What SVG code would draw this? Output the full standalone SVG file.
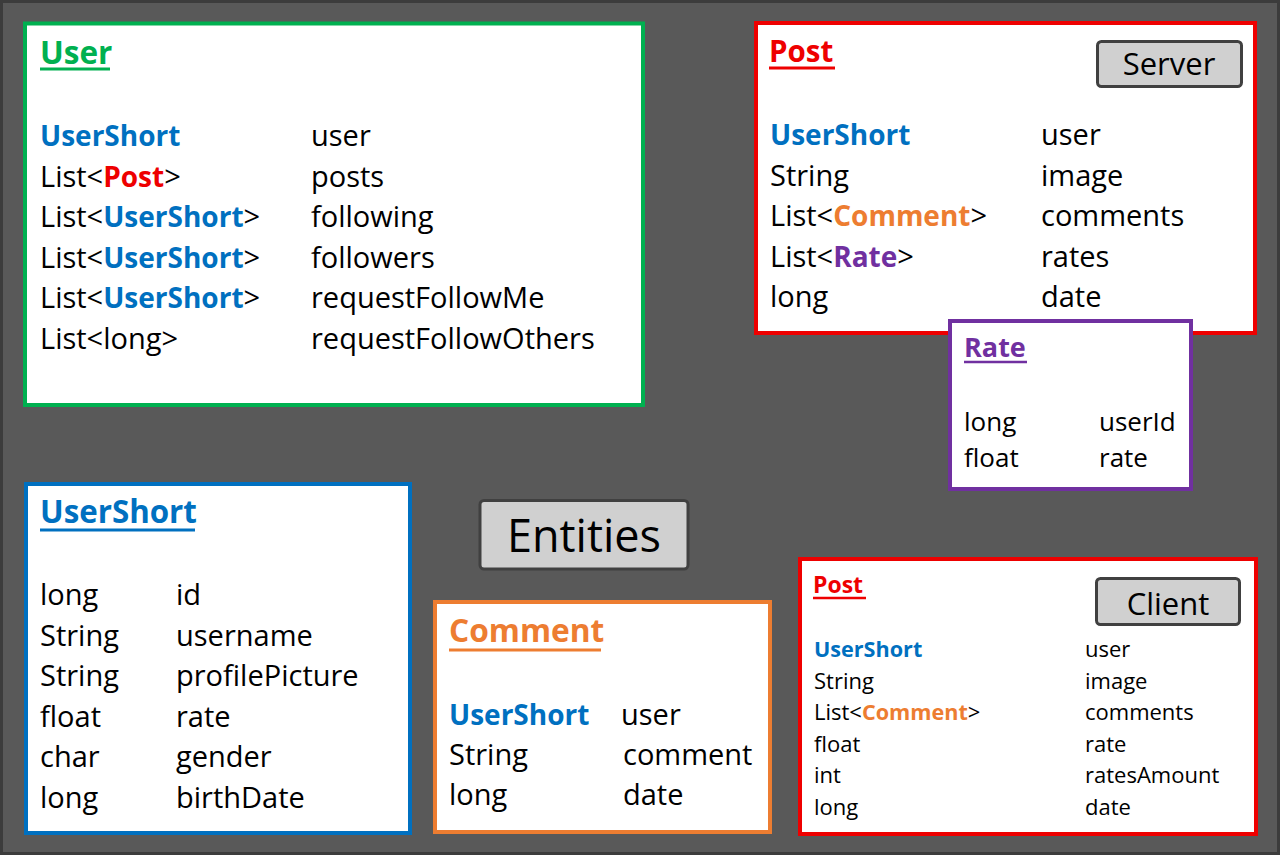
<svg xmlns="http://www.w3.org/2000/svg" width="1280" height="855" viewBox="0 0 1280 855">
<style>
text{font-family:"Open Sans","Liberation Sans",sans-serif;fill:#000}
.b{font-size:29px}
.s{font-size:22px}
.r{font-size:26px}
.h{font-weight:bold}
.b .h{font-size:28px}
.s .h{font-size:21.6px}
.box{fill:#fff;stroke-width:4}
.btn{fill:#d0d0d0;stroke:#404040;stroke-width:3}
.ul{stroke-width:3}
.g{fill:#00b050}.gs{stroke:#00b050}
.red{fill:#ee0000}.reds{stroke:#ee0000}
.bl{fill:#0070c0}.bls{stroke:#0070c0}
.or{fill:#ed7d31}.ors{stroke:#ed7d31}
.pu{fill:#7030a0}.pus{stroke:#7030a0}
</style>
<rect x="1.5" y="1.5" width="1277" height="852" fill="#595959" stroke="#3c3c3c" stroke-width="3"/>
<g id="connectors"></g>

<g id="user">
<rect class="box gs" x="25" y="23.5" width="618" height="381.5"/>
<text class="h g" font-size="31.5" x="40" y="64">User</text>
<line class="ul gs" x1="40" y1="69" x2="110" y2="69"/>
<g class="b">
<text x="40" y="146" class="h bl">UserShort</text>
<text x="40" y="186.5">List&lt;<tspan class="h red">Post</tspan>&gt;</text>
<text x="40" y="227">List&lt;<tspan class="h bl">UserShort</tspan>&gt;</text>
<text x="40" y="267.5">List&lt;<tspan class="h bl">UserShort</tspan>&gt;</text>
<text x="40" y="308">List&lt;<tspan class="h bl">UserShort</tspan>&gt;</text>
<text x="40" y="348.5">List&lt;long&gt;</text>
<text x="311" y="146">user</text>
<text x="311" y="186.5">posts</text>
<text x="311" y="227">following</text>
<text x="311" y="267.5">followers</text>
<text x="311" y="308">requestFollowMe</text>
<text x="311" y="348.5">requestFollowOthers</text>
</g>
</g>

<g id="post-server">
<rect class="box reds" x="756" y="23" width="499" height="310"/>
<text class="h red" font-size="29.5" x="769" y="62">Post</text>
<line class="ul reds" x1="769" y1="68" x2="835" y2="68"/>
<g class="b">
<text x="770" y="145" class="h bl">UserShort</text>
<text x="770" y="185.5">String</text>
<text x="770" y="226">List&lt;<tspan class="h or">Comment</tspan>&gt;</text>
<text x="770" y="266.5">List&lt;<tspan class="h pu">Rate</tspan>&gt;</text>
<text x="770" y="307">long</text>
<text x="1041" y="145">user</text>
<text x="1041" y="185.5">image</text>
<text x="1041" y="226">comments</text>
<text x="1041" y="266.5">rates</text>
<text x="1041" y="307">date</text>
</g>
</g>

<g id="server-label">
<rect class="btn" x="1097.5" y="41.5" width="144" height="45" rx="4"/>
<text x="1169" y="75" font-size="31" text-anchor="middle">Server</text>
</g>

<g id="rate">
<rect class="box pus" x="950" y="321" width="241" height="168"/>
<text class="h pu" font-size="27" x="964" y="357">Rate</text>
<line class="pus" stroke-width="2.5" x1="964" y1="362" x2="1027" y2="362"/>
<g class="r">
<text x="964" y="431">long</text>
<text x="964" y="467">float</text>
<text x="1099" y="431">userId</text>
<text x="1099" y="467">rate</text>
</g>
</g>

<g id="usershort">
<rect class="box bls" x="26" y="484" width="384" height="349"/>
<text class="h bl" font-size="31.3" x="40" y="523">UserShort</text>
<line class="ul bls" x1="40" y1="530" x2="195" y2="530"/>
<g class="b">
<text x="40" y="605">long</text>
<text x="40" y="645.5">String</text>
<text x="40" y="686">String</text>
<text x="40" y="726.5">float</text>
<text x="40" y="767">char</text>
<text x="40" y="807.5">long</text>
<text x="176" y="605">id</text>
<text x="176" y="645.5">username</text>
<text x="176" y="686">profilePicture</text>
<text x="176" y="726.5">rate</text>
<text x="176" y="767">gender</text>
<text x="176" y="807.5">birthDate</text>
</g>
</g>

<g id="entities-label">
<rect class="btn" x="480" y="500.5" width="208" height="68.5" rx="4"/>
<text x="584" y="552" font-size="45" text-anchor="middle">Entities</text>
</g>

<g id="comment">
<rect class="box ors" x="435" y="602" width="335" height="230"/>
<text class="h or" font-size="31.7" x="449" y="642">Comment</text>
<line class="ul ors" x1="449" y1="650" x2="601" y2="650"/>
<g class="b">
<text x="449" y="725" class="h bl">UserShort</text>
<text x="449" y="765">String</text>
<text x="449" y="805">long</text>
<text x="621" y="725">user</text>
<text x="623" y="765">comment</text>
<text x="623" y="805">date</text>
</g>
</g>

<g id="post-client">
<rect class="box reds" x="800" y="559" width="456" height="275"/>
<text class="h red" font-size="23" x="813" y="593">Post</text>
<line class="reds" stroke-width="2.5" x1="813" y1="598" x2="866" y2="598"/>
<g class="s">
<text x="814" y="657" class="h bl">UserShort</text>
<text x="814" y="688.5">String</text>
<text x="814" y="720">List&lt;<tspan class="h or">Comment</tspan>&gt;</text>
<text x="814" y="751.5">float</text>
<text x="814" y="783">int</text>
<text x="814" y="814.5">long</text>
<text x="1085" y="657">user</text>
<text x="1085" y="688.5">image</text>
<text x="1085" y="720">comments</text>
<text x="1085" y="751.5">rate</text>
<text x="1085" y="783">ratesAmount</text>
<text x="1085" y="814.5">date</text>
</g>
</g>

<g id="client-label">
<rect class="btn" x="1096.5" y="578.5" width="143" height="46" rx="4"/>
<text x="1168" y="615" font-size="31" text-anchor="middle">Client</text>
</g>
</svg>
